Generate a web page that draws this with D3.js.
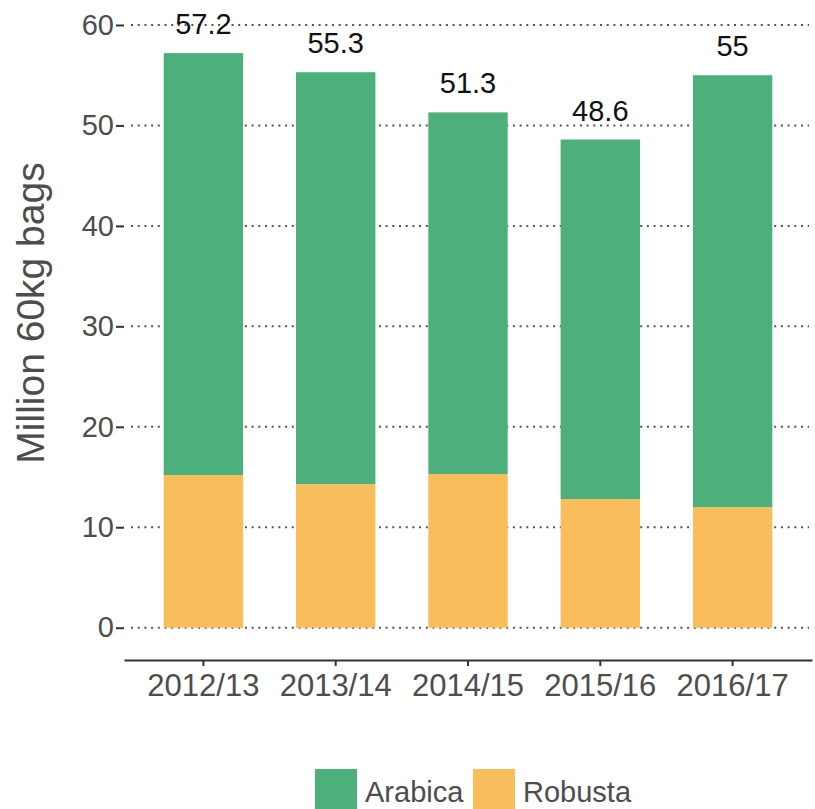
<!DOCTYPE html>
<html>
<head>
<meta charset="utf-8">
<script src="https://cdn.jsdelivr.net/npm/d3@7"></script>
<style>
  body { margin: 0; background: #fff; }
  svg { display: block; font-family: "Liberation Sans", Arial, sans-serif; }
</style>
</head>
<body>
<div id="chart"></div>
<script>
window.onload = function() {

  let WIDTH = 815;
  let HEIGHT = 809;

  // data
  let seasons = ["2012/13", "2013/14", "2014/15", "2015/16", "2016/17"];
  let robusta = [15.2, 14.3, 15.3, 12.8, 12.0];
  let arabica = [42.0, 41.0, 36.0, 35.8, 43.0];
  let totalLabels = ["57.2", "55.3", "51.3", "48.6", "55"];
  let yTicks = [0, 10, 20, 30, 40, 50, 60];
  let seriesNames = ["Arabica", "Robusta"];
  let seriesColors = ["#4daf7b", "#f9bd5b"];

  let rows = seasons.map(function(s, i) {
    return {season: s, Robusta: robusta[i], Arabica: arabica[i], label: totalLabels[i]};
  });

  let svg = d3.select("#chart").append("svg").attr("width", WIDTH).attr("height", HEIGHT);

  let xScale = d3.scaleBand().domain(seasons).range([124, 812]).paddingInner(0.4).paddingOuter(0.3);
  let yScale = d3.scaleLinear().domain([0, 60]).range([627.7, 25]);

  // dotted gridlines
  svg.append("g").selectAll("line")
     .data(yTicks)
     .enter()
     .append("line")
     .attr("x1", 131)
     .attr("x2", 809)
     .attr("y1", function(d) {return yScale(d);})
     .attr("y2", function(d) {return yScale(d);})
     .attr("stroke", "#555")
     .attr("stroke-width", 2)
     .attr("stroke-dasharray", "2,4.7");

  // stacked bars, robusta at the bottom
  let stack = d3.stack().keys(["Robusta", "Arabica"]);
  let layers = stack(rows);
  let colorOf = {Arabica: seriesColors[0], Robusta: seriesColors[1]};

  svg.append("g").selectAll("g")
     .data(layers)
     .enter()
     .append("g")
     .attr("fill", function(d) {return colorOf[d.key];})
     .selectAll("rect")
     .data(function(d) {return d;})
     .enter()
     .append("rect")
     .attr("x", function(d) {return xScale(d.data.season);})
     .attr("width", xScale.bandwidth())
     .attr("y", function(d) {return yScale(d[1]);})
     .attr("height", function(d) {return yScale(d[0]) - yScale(d[1]);});

  // total labels
  svg.append("g").selectAll("text")
     .data(rows)
     .enter()
     .append("text")
     .attr("x", function(d) {return xScale(d.season) + xScale.bandwidth() / 2;})
     .attr("y", function(d) {return yScale(d.Robusta + d.Arabica) - 19;})
     .attr("text-anchor", "middle")
     .attr("font-size", 29)
     .attr("fill", "#111")
     .text(function(d) {return d.label;});

  // y axis: ticks and labels, no line
  let yAxis = svg.append("g").attr("transform", "translate(124,0)")
     .call(d3.axisLeft(yScale).tickValues(yTicks).tickSize(8).tickPadding(2));
  yAxis.select(".domain").remove();
  yAxis.selectAll(".tick line").attr("stroke", "#333").attr("stroke-width", 2);
  yAxis.selectAll(".tick text")
       .attr("font-size", 29)
       .attr("font-family", "Liberation Sans, Arial, sans-serif")
       .attr("fill", "#4d4d4d");

  // x axis
  let xAxis = svg.append("g").attr("transform", "translate(0,660)")
     .call(d3.axisBottom(xScale).tickSize(6).tickPadding(8).tickSizeOuter(0));
  xAxis.select(".domain").attr("stroke", "#333").attr("stroke-width", 2);
  xAxis.selectAll(".tick line").attr("stroke", "#333").attr("stroke-width", 2);
  xAxis.selectAll(".tick text")
       .attr("font-size", 31)
       .attr("font-family", "Liberation Sans, Arial, sans-serif")
       .attr("fill", "#4d4d4d");

  // y axis title
  svg.append("text")
     .attr("transform", "translate(44,313) rotate(-90)")
     .attr("text-anchor", "middle")
     .attr("font-size", 39)
     .attr("fill", "#4d4d4d")
     .text("Million 60kg bags");

  // legend
  let legendX = [315, 473];
  let legend = svg.append("g").selectAll("g")
     .data(seriesNames)
     .enter()
     .append("g")
     .attr("transform", function(d, i) {return "translate(" + legendX[i] + ",769)";});

  legend.append("rect")
        .attr("width", 42)
        .attr("height", 42)
        .attr("fill", function(d, i) {return seriesColors[i];});

  legend.append("text")
        .attr("x", 50)
        .attr("y", 33)
        .attr("font-size", 29)
        .attr("fill", "#4d4d4d")
        .text(function(d) {return d;});
}
</script>
</body>
</html>
